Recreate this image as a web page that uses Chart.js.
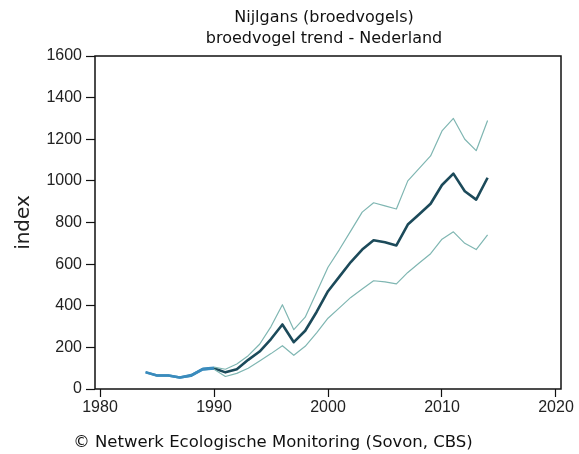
<!DOCTYPE html>
<html>
<head>
<meta charset="utf-8">
<script src="https://cdn.jsdelivr.net/npm/chart.js@4/dist/chart.umd.min.js"></script>
<style>
    html, body { margin: 0; padding: 0; background: #fff; }
    canvas { display: block; }
</style>
</head>
<body>
<canvas id="trend-chart" width="579" height="454"></canvas>
<script>
const years = [1984, 1985, 1986, 1987, 1988, 1989, 1990, 1991, 1992, 1993, 1994, 1995, 1996, 1997, 1998, 1999,
    2000, 2001, 2002, 2003, 2004, 2005, 2006, 2007, 2008, 2009, 2010, 2011, 2012, 2013, 2014];
const trend = [80, 65, 65, 55, 65, 95, 100, 80, 95, 140, 180, 240, 310, 225, 280, 370,
    470, 540, 610, 670, 715, 705, 690, 790, 840, 890, 980, 1035, 950, 910, 1015];
const upper = [82, 68, 68, 58, 70, 100, 105, 95, 120, 160, 215, 300, 405, 285, 345, 465,
    585, 670, 760, 850, 895, 880, 865, 1000, 1060, 1120, 1240, 1300, 1200, 1145, 1290];
const lower = [78, 62, 62, 52, 60, 90, 95, 60, 75, 100, 135, 170, 208, 162, 205, 270,
    340, 390, 440, 480, 520, 515, 505, 560, 605, 650, 720, 755, 700, 670, 740];
const xTicks = [1980, 1990, 2000, 2010, 2020];

const titleLines = ['Nijlgans (broedvogels)', 'broedvogel trend - Nederland'];
const footer = '\u00A9 Netwerk Ecologische Monitoring (Sovon, CBS)';

const earlyColor = '#3b8cbd';
const toPoints = values => years.map((year, i) => ({ x: year, y: values[i] }));
const earlySegment = color => ({
    borderColor: ctx => (ctx.p1.parsed.x <= 1990 ? earlyColor : color),
});

const framePlugin = {
    id: 'frame',
    afterDraw(chart) {
        const { ctx, chartArea } = chart;
        ctx.save();
        ctx.strokeStyle = '#111';
        ctx.lineWidth = 1.5;
        ctx.strokeRect(chartArea.left, chartArea.top, chartArea.right - chartArea.left, chartArea.bottom - chartArea.top);

        ctx.fillStyle = '#111';
        ctx.textAlign = 'center';
        ctx.textBaseline = 'middle';
        ctx.font = '16px "DejaVu Sans"';
        ctx.fillText(titleLines[0], 324, 18);
        ctx.fillText(titleLines[1], 324, 39);
        ctx.font = '16.5px "DejaVu Sans"';
        ctx.fillText(footer, 273, 443);
        ctx.restore();
    },
};

new Chart(document.querySelector('#trend-chart'), {
    type: 'line',
    data: {
        datasets: [
            {
                label: 'bovengrens',
                data: toPoints(upper),
                borderColor: '#7fb6b2',
                borderWidth: 1.2,
                segment: earlySegment('#7fb6b2'),
            },
            {
                label: 'ondergrens',
                data: toPoints(lower),
                borderColor: '#7fb6b2',
                borderWidth: 1.2,
                segment: earlySegment('#7fb6b2'),
            },
            {
                label: 'index',
                data: toPoints(trend),
                borderColor: '#1c4a5a',
                borderWidth: 2.6,
                segment: earlySegment('#1c4a5a'),
            },
        ],
    },
    options: {
        responsive: false,
        animation: false,
        layout: { padding: { left: 0, right: 18, top: 56, bottom: 35 } },
        elements: {
            point: { radius: 0 },
            line: { tension: 0, borderJoinStyle: 'round' },
        },
        plugins: {
            legend: { display: false },
            tooltip: { enabled: false },
        },
        scales: {
            x: {
                type: 'linear',
                min: 1979.56,
                max: 2020.44,
                afterBuildTicks: scale => { scale.ticks = xTicks.map(v => ({ value: v })); },
                afterFit: scale => { scale.height = 30; },
                border: { display: false },
                grid: { drawOnChartArea: false, color: '#111', tickLength: 8, tickWidth: 1.2 },
                ticks: {
                    color: '#222',
                    padding: 1,
                    maxRotation: 0,
                    font: { family: 'Liberation Sans', size: 16 },
                    callback: v => String(v),
                },
            },
            y: {
                min: 0,
                max: 1600,
                afterFit: scale => { scale.width = 95; },
                border: { display: false },
                grid: { drawOnChartArea: false, color: '#111', tickLength: 9, tickWidth: 1.2 },
                ticks: {
                    stepSize: 200,
                    color: '#222',
                    padding: 4,
                    font: { family: 'Liberation Sans', size: 16 },
                    callback: v => String(v),
                },
                title: {
                    display: true,
                    text: 'index',
                    color: '#222',
                    padding: 12,
                    font: { family: 'DejaVu Sans', size: 20 },
                },
            },
        },
    },
    plugins: [framePlugin],
});
</script>
</body>
</html>
